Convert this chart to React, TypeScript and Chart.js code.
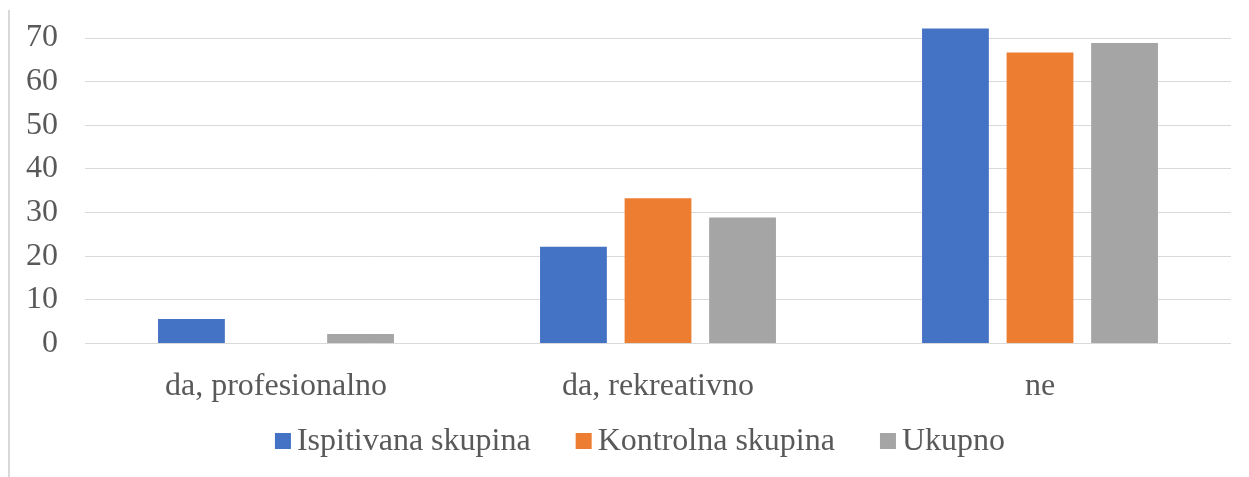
import React, { useEffect, useRef } from "react";
import { Chart, registerables } from "chart.js";

Chart.register(...registerables);

const categories = ["da, profesionalno", "da, rekreativno", "ne"];
const seriesNames = ["Ispitivana skupina", "Kontrolna skupina", "Ukupno"];
const ispitivana = [5.6, 22.2, 72.2];
const kontrolna = [0, 33.3, 66.7];
const ukupno = [2.2, 28.9, 68.9];
const yTicks = [0, 10, 20, 30, 40, 50, 60, 70];
const colors = ["#4472C4", "#ED7D31", "#A5A5A5"];

const TEXT = "#595959";
const FONT = "'Liberation Serif', 'Times New Roman', serif";

const bottomLegend = {
  id: "bottomLegend",
  afterDraw(chart: any) {
    const ctx = chart.ctx;
    const box = 16;
    const gapText = 6;
    const gapItem = 45;
    ctx.save();
    ctx.font = `32px ${FONT}`;
    ctx.textBaseline = "alphabetic";
    ctx.textAlign = "left";
    const items = chart.data.datasets.map((d: any) => ({
      text: d.label as string,
      color: d.backgroundColor as string,
      w: ctx.measureText(d.label).width,
    }));
    const total =
      items.reduce((s: number, it: any) => s + box + gapText + it.w, 0) + gapItem * (items.length - 1);
    const cx = (chart.chartArea.left + chart.chartArea.right) / 2 - 18;
    let x = cx - total / 2;
    const baseline = 450;
    items.forEach((it: any) => {
      ctx.fillStyle = it.color;
      ctx.fillRect(x, 433, box, box);
      x += box + gapText;
      ctx.fillStyle = TEXT;
      ctx.fillText(it.text, x, baseline);
      x += it.w + gapItem;
    });
    ctx.restore();
  },
};

export default function App() {
  const ref = useRef<HTMLCanvasElement | null>(null);

  useEffect(() => {
    if (!ref.current) return;
    const values = [ispitivana, kontrolna, ukupno];
    const chart = new Chart(ref.current, {
      type: "bar",
      data: {
        labels: categories,
        datasets: seriesNames.map((name, i) => ({
          label: name,
          data: values[i],
          backgroundColor: colors[i],
          borderWidth: 0,
          categoryPercentage: 0.664,
          barPercentage: 0.79,
        })),
      },
      plugins: [bottomLegend],
      options: {
        animation: false,
        responsive: false,
        devicePixelRatio: 1,
        layout: { padding: { left: 20, right: 18, top: 25, bottom: 73.5 } },
        plugins: {
          legend: { display: false },
          tooltip: { enabled: false },
        },
        scales: {
          x: {
            grid: { display: false, drawTicks: false },
            border: { display: false },
            ticks: {
              color: TEXT,
              font: { family: FONT, size: 32, lineHeight: 1.2 },
              padding: 24,
              maxRotation: 0,
            },
            afterFit: (s: any) => {
              s.height = 60;
            },
          },
          y: {
            min: 0,
            max: 73,
            grid: {
              color: "#D9D9D9",
              lineWidth: 1,
              drawTicks: true,
              tickLength: 27,
              tickColor: "rgba(0,0,0,0)",
            },
            border: { display: false },
            ticks: {
              color: TEXT,
              font: { family: FONT, size: 32 },
              padding: 0,
              stepSize: 10,
            },
            afterBuildTicks: (axis: any) => {
              axis.ticks = yTicks.map((v) => ({ value: v }));
            },
            afterFit: (s: any) => {
              s.width = 65;
            },
          },
        },
      },
    });
    return () => chart.destroy();
  }, []);

  return (
    <div style={{ position: "fixed", left: 0, top: 0, width: 1249, height: 477, background: "#fff" }}>
      <div style={{ position: "absolute", left: 8, top: 10, width: 2, height: 467, background: "#D9D9D9" }} />
      <canvas ref={ref} width={1249} height={477} style={{ position: "absolute", left: 0, top: 0 }} />
    </div>
  );
}
